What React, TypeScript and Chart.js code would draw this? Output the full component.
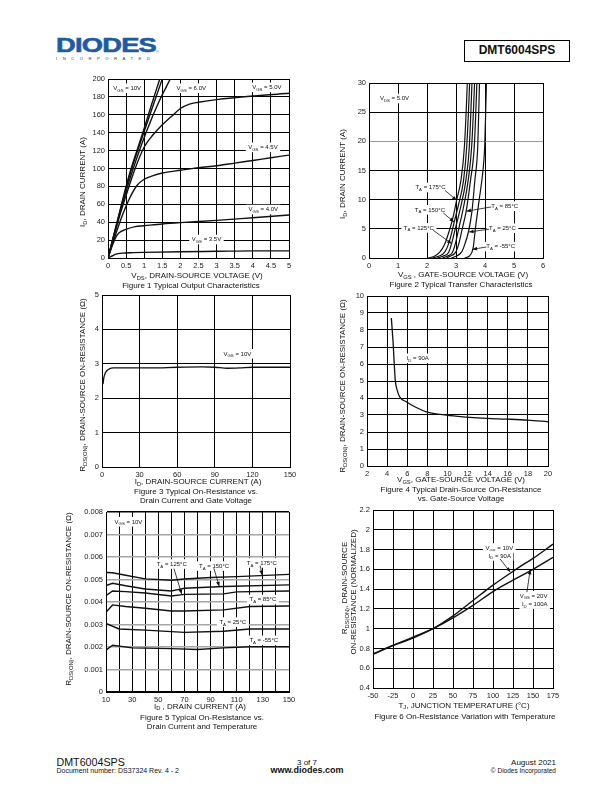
import React, { useEffect, useRef } from 'react';
import { Chart, registerables } from 'chart.js';

Chart.register(...registerables);

const FONT = "'Liberation Sans', Arial, Helvetica, sans-serif";
const INK = '#111';

// ---------------- Figure 1: Typical Output Characteristics ----------------
const f1XTicks = [0, 0.5, 1, 1.5, 2, 2.5, 3, 3.5, 4, 4.5, 5];
const f1XLabels = ['0', '0.5', '1', '1.5', '2', '2.5', '3', '3.5', '4', '4.5', '5'];
const f1YTicks = [0, 20, 40, 60, 80, 100, 120, 140, 160, 180, 200];
const f1YLabels = ['0', '20', '40', '60', '80', '100', '120', '140', '160', '180', '200'];
const f1Vgs10 = [[0, 0], [0.3, 48], [0.58, 92], [0.97, 141], [1.2, 171], [1.43, 200]];
const f1Vgs8 = [[0, 0], [0.3, 47], [0.58, 90], [0.98, 139], [1.25, 171], [1.5, 200]];
const f1Vgs6 = [[0, 0], [0.3, 46], [0.6, 88], [1.06, 141], [1.4, 174], [1.72, 200]];
const f1Vgs5 = [[0, 0], [0.3, 44], [0.5, 70], [0.75, 100], [1, 124], [1.25, 138], [1.5, 149], [1.75, 158], [2, 167], [2.25, 172], [2.5, 174], [3, 177], [4, 181], [5, 184]];
const f1Vgs45 = [[0, 0], [0.2, 25], [0.4, 48], [0.6, 67], [0.8, 81], [1, 88], [1.25, 92], [1.5, 95], [2, 98], [2.5, 101], [3, 103], [3.5, 106], [4, 109], [4.5, 112], [5, 115]];
const f1Vgs4 = [[0, 0], [0.1, 12], [0.2, 22], [0.3, 28], [0.5, 32], [0.75, 35], [1, 36], [1.5, 38], [2, 39.5], [3, 42], [4, 45], [5, 48]];
const f1Vgs35 = [[0, 0], [0.1, 2], [0.2, 4], [0.4, 5.5], [0.7, 6], [1, 6.3], [2, 7], [3, 7.5], [4, 8], [5, 8]];
const f1Notes = [
  { t: 'V_{GS} = 10V', x: 0.53, y: 190 },
  { t: 'V_{GS} = 6.0V', x: 2.3, y: 190 },
  { t: 'V_{GS} = 5.0V', x: 4.39, y: 191 },
  { t: 'V_{GS} = 4.5V', x: 4.28, y: 124 },
  { t: 'V_{GS} = 4.0V', x: 4.29, y: 54.5 },
  { t: 'V_{GS} = 3.5V', x: 2.72, y: 21 },
];

// ---------------- Figure 2: Typical Transfer Characteristics ----------------
const f2XTicks = [0, 1, 2, 3, 4, 5, 6];
const f2XLabels = ['0', '1', '2', '3', '4', '5', '6'];
const f2YTicks = [0, 5, 10, 15, 20, 25, 30];
const f2YLabels = ['0', '5', '10', '15', '20', '25', '30'];
const f2T175 = [[2.04, 0], [2.25, 0.3], [2.44, 1], [2.62, 2.5], [2.77, 4.7], [2.9, 7], [3.02, 9.9], [3.17, 13.3], [3.29, 19.1], [3.39, 30], [3.41, 33]];
const f2T150 = [[2.19, 0], [2.4, 0.3], [2.61, 1], [2.75, 2.5], [2.87, 4.7], [2.94, 6.2], [3.08, 9], [3.26, 13.3], [3.37, 19.1], [3.47, 30], [3.49, 33]];
const f2T125 = [[2.35, 0], [2.55, 0.3], [2.75, 1], [2.85, 2.5], [2.96, 4.7], [3.15, 8.5], [3.34, 13.3], [3.46, 19.1], [3.55, 30], [3.57, 33]];
const f2T100 = [[2.53, 0], [2.7, 0.3], [2.88, 1], [2.98, 2.5], [3.08, 4.7], [3.25, 8.5], [3.42, 13.3], [3.54, 19.1], [3.64, 30], [3.66, 33]];
const f2T85 = [[2.67, 0], [2.8, 0.3], [2.99, 1], [3.1, 2.5], [3.2, 4.7], [3.35, 8], [3.5, 13.3], [3.63, 19.1], [3.72, 30], [3.74, 33]];
const f2T25 = [[2.84, 0], [3.0, 0.3], [3.19, 1], [3.3, 2.3], [3.43, 4.5], [3.55, 8], [3.65, 13.3], [3.75, 19.1], [3.81, 30], [3.83, 33]];
const f2Tm55 = [[3.3, 0], [3.45, 0.3], [3.55, 1], [3.6, 2], [3.66, 4.7], [3.8, 10], [3.93, 15], [3.99, 19.1], [4.05, 30], [4.07, 33]];
const f2Notes = [
  { t: 'V_{DS} = 5.0V', x: 0.88, y: 27.4 },
  { t: 'T_{A} = 175°C', x: 2.12, y: 12.14 },
  { t: 'T_{A} = 150°C', x: 2.1, y: 8.31 },
  { t: 'T_{A} = 125°C', x: 1.72, y: 5.22 },
  { t: 'T_{A} = 85°C', x: 4.68, y: 8.93 },
  { t: 'T_{A} = 25°C', x: 4.6, y: 5.15 },
  { t: 'T_{A} = -55°C', x: 4.54, y: 2.01 },
];
const f2Arrows = [
  { x1: 2.62, y1: 11.6, x2: 3.02, y2: 9.9 },
  { x1: 2.56, y1: 7.73, x2: 2.93, y2: 6.18 },
  { x1: 2.21, y1: 4.76, x2: 2.85, y2: 2.47 },
  { x1: 4.22, y1: 8.76, x2: 3.36, y2: 8.02 },
  { x1: 4.14, y1: 4.93, x2: 3.45, y2: 4.47 },
  { x1: 4.05, y1: 1.89, x2: 3.57, y2: 1.49 },
];

// ---------------- Figure 3: On-Resistance vs Drain Current ----------------
const f3XTicks = [0, 30, 60, 90, 120, 150];
const f3XLabels = ['0', '30', '60', '90', '120', '150'];
const f3YTicks = [0, 1, 2, 3, 4, 5];
const f3YLabels = ['0', '1', '2', '3', '4', '5'];
const f3Vgs10 = [[0.8, 2.41], [1.5, 2.6], [2.6, 2.73], [4.8, 2.83], [8.8, 2.88], [20, 2.88], [40, 2.88], [60, 2.9], [80, 2.91], [90, 2.9], [100, 2.87], [110, 2.88], [120, 2.9], [150, 2.9]];
const f3Notes = [{ t: 'V_{GS} = 10V', x: 108, y: 3.3 }];

// ---------------- Figure 4: On-Resistance vs Gate-Source Voltage ----------------
const f4XTicks = [2, 4, 6, 8, 10, 12, 14, 16, 18, 20];
const f4XLabels = ['2', '4', '6', '8', '10', '12', '14', '16', '18', '20'];
const f4YTicks = [0, 1, 2, 3, 4, 5, 6, 7, 8, 9, 10];
const f4YLabels = ['0', '1', '2', '3', '4', '5', '6', '7', '8', '9', '10'];
const f4Id90 = [[4.42, 8.71], [4.58, 7.4], [4.81, 5.05], [5.0, 4.46], [5.25, 4.07], [5.9, 3.78], [6.9, 3.44], [7.9, 3.19], [9.9, 2.99], [11.9, 2.88], [13.9, 2.8], [15.8, 2.76], [18, 2.7], [20, 2.6]];
const f4Notes = [{ t: 'I_{D} = 90A', x: 7.04, y: 6.35 }];

// ---------------- Figure 5: On-Resistance vs Drain Current and Temperature ----------------
const f5XTicks = [10, 20, 30, 40, 50, 60, 70, 80, 90, 100, 110, 120, 130, 140, 150];
const f5XLabels = ['10', '', '30', '', '50', '', '70', '', '90', '', '110', '', '130', '', '150'];
const f5YTicks = [0, 0.001, 0.002, 0.003, 0.004, 0.005, 0.006, 0.007, 0.008];
const f5YLabels = ['0', '0.001', '0.002', '0.003', '0.004', '0.005', '0.006', '0.007', '0.008'];
const f5T175 = [[10, 0.00531], [15, 0.0053], [25, 0.00519], [40, 0.00503], [60, 0.00497], [70, 0.00502], [90, 0.00509], [110, 0.00513], [128, 0.00517], [150, 0.00523]];
const f5T150 = [[10, 0.00473], [15, 0.00483], [25, 0.00472], [40, 0.00458], [60, 0.00449], [65, 0.00455], [70, 0.00461], [100, 0.00469], [150, 0.00476]];
const f5T125 = [[10, 0.00428], [15, 0.00449], [25, 0.00446], [40, 0.0044], [60, 0.00427], [70, 0.00434], [100, 0.00436], [110, 0.00445], [150, 0.00449]];
const f5T85 = [[10, 0.00354], [15, 0.00387], [25, 0.0038], [40, 0.00372], [60, 0.0036], [70, 0.0036], [100, 0.00365], [120, 0.0038], [150, 0.00382]];
const f5T25 = [[10, 0.00305], [20, 0.0028], [40, 0.00275], [70, 0.00265], [100, 0.0027], [120, 0.0028], [150, 0.0028]];
const f5Tm55 = [[10, 0.00186], [15, 0.00208], [30, 0.00196], [60, 0.00193], [80, 0.00189], [100, 0.00196], [120, 0.00201], [150, 0.00201]];
const f5Notes = [
  { t: 'V_{GS} = 10V', x: 27.2, y: 0.00758 },
  { t: 'T_{A} = 125°C', x: 60.3, y: 0.0057 },
  { t: 'T_{A} = 150°C', x: 92.7, y: 0.00561 },
  { t: 'T_{A} = 175°C', x: 129.2, y: 0.00575 },
  { t: 'T_{A} = 85°C', x: 130, y: 0.00412 },
  { t: 'T_{A} = 25°C', x: 107, y: 0.00312 },
  { t: 'T_{A} = -55°C', x: 130.7, y: 0.00231 },
];
const f5Arrows = [
  { x1: 62, y1: 0.00548, x2: 67.9, y2: 0.00436 },
  { x1: 92.5, y1: 0.0055, x2: 96.6, y2: 0.0047 },
  { x1: 128, y1: 0.00561, x2: 129.4, y2: 0.0052 },
];

// ---------------- Figure 6: On-Resistance vs Temperature ----------------
const f6XTicks = [-50, -25, 0, 25, 50, 75, 100, 125, 150, 175];
const f6XLabels = ['-50', '-25', '0', '25', '50', '75', '100', '125', '150', '175'];
const f6YTicks = [0.4, 0.6, 0.8, 1, 1.2, 1.4, 1.6, 1.8, 2, 2.2];
const f6YLabels = ['0.4', '0.6', '0.8', '1', '1.2', '1.4', '1.6', '1.8', '2', '2.2'];
const f6Vgs10 = [[-50, 0.74], [-25, 0.83], [0, 0.915], [25, 1.0], [50, 1.13], [75, 1.285], [100, 1.44], [125, 1.58], [140, 1.66], [150, 1.71], [175, 1.855]];
const f6Vgs20 = [[-50, 0.745], [-25, 0.83], [0, 0.905], [25, 1.0], [50, 1.11], [75, 1.235], [100, 1.375], [125, 1.49], [150, 1.6], [175, 1.72]];
const f6Notes = [
  { t: 'V_{GS} = 10V', x: 107.9, y: 1.819 },
  { t: 'I_{D} = 90A', x: 108.5, y: 1.739 },
  { t: 'V_{GS} = 20V', x: 150.7, y: 1.335 },
  { t: 'I_{D} = 100A', x: 152.2, y: 1.251 },
];
const f6Arrows = [
  { x1: 108.9, y1: 1.705, x2: 121.5, y2: 1.573 },
  { x1: 142.4, y1: 1.369, x2: 146.5, y2: 1.595 },
];

// ---------------- text around the plots ----------------
const pageTexts = [
  { x: 83, y: 182, text: 'I_{D}, DRAIN CURRENT (A)', rot: true },
  { x: 197, y: 276, text: 'V_{DS}, DRAIN-SOURCE VOLTAGE (V)' },
  { x: 191, y: 286, text: 'Figure 1 Typical Output Characteristics' },
  { x: 343, y: 174, text: 'I_{D}, DRAIN CURRENT (A)', rot: true },
  { x: 463, y: 275, text: 'V_{GS} , GATE-SOURCE VOLTAGE (V)' },
  { x: 461, y: 285, text: 'Figure 2 Typical Transfer Characteristics' },
  { x: 83, y: 385, text: 'R_{DS(ON)}, DRAIN-SOURCE ON-RESISTANCE (Ω)', rot: true },
  { x: 198, y: 482, text: 'I_{D}, DRAIN-SOURCE CURRENT (A)' },
  { x: 196, y: 491.5, text: 'Figure 3 Typical On-Resistance vs.' },
  { x: 196, y: 500.5, text: 'Drain Current and Gate Voltage' },
  { x: 343, y: 386, text: 'R_{DS(ON)}, DRAIN-SOURCE ON-RESISTANCE (Ω)', rot: true },
  { x: 461, y: 480, text: 'V_{GS}, GATE-SOURCE VOLTAGE (V)' },
  { x: 461, y: 490, text: 'Figure 4 Typical Drain-Source On-Resistance' },
  { x: 461, y: 498.5, text: 'vs. Gate-Source Voltage' },
  { x: 69, y: 599, text: 'R_{DS(ON)}, DRAIN-SOURCE ON-RESISTANCE (Ω)', rot: true },
  { x: 200, y: 706.5, text: 'I_{D} , DRAIN CURRENT (A)' },
  { x: 202, y: 717.5, text: 'Figure 5 Typical On-Resistance vs.' },
  { x: 202, y: 726.5, text: 'Drain Current and Temperature' },
  { x: 345, y: 588, text: 'R_{DS(ON)}, DRAIN-SOURCE', rot: true },
  { x: 354, y: 592, text: 'ON-RESISTANCE (NORMALIZED)', rot: true },
  { x: 464, y: 705.5, text: 'T_{J}, JUNCTION TEMPERATURE (°C)' },
  { x: 465, y: 717, text: 'Figure 6 On-Resistance Variation with Temperature' },
];

// ---------------- helpers ----------------
type Seg = { t: string; sub: boolean };
function parseRich(s: string): Seg[] {
  const out: Seg[] = [];
  const re = /_\{([^}]*)\}/g;
  let last = 0;
  let m: RegExpExecArray | null;
  while ((m = re.exec(s))) {
    if (m.index > last) out.push({ t: s.slice(last, m.index), sub: false });
    out.push({ t: m[1], sub: true });
    last = re.lastIndex;
  }
  if (last < s.length) out.push({ t: s.slice(last), sub: false });
  return out;
}

function drawRich(ctx: CanvasRenderingContext2D, text: string, cx: number, cy: number, size: number) {
  const segs = parseRich(text);
  const widths: number[] = [];
  let w = 0;
  for (const s of segs) {
    ctx.font = `${s.sub ? size * 0.72 : size}px ${FONT}`;
    const sw = ctx.measureText(s.t).width;
    widths.push(sw);
    w += sw;
  }
  let x = cx - w / 2;
  ctx.fillStyle = '#fff';
  ctx.fillRect(x - 2.5, cy - size * 0.75, w + 5, size * 1.6);
  ctx.fillStyle = INK;
  ctx.textBaseline = 'alphabetic';
  ctx.textAlign = 'left';
  const base = cy + size * 0.35;
  segs.forEach((s, i) => {
    ctx.font = `${s.sub ? size * 0.72 : size}px ${FONT}`;
    ctx.fillText(s.t, x, s.sub ? base + size * 0.3 : base);
    x += widths[i];
  });
}

type Note = { t: string; x: number; y: number };
type Arrow = { x1: number; y1: number; x2: number; y2: number };
type Spec = {
  rect: number[];
  xTicks: number[]; xLabels: string[];
  yTicks: number[]; yLabels: string[];
  series: number[][][];
  smooth: boolean;
  lineWidth?: number;
  notes: Note[];
  arrows: Arrow[];
  hGrid?: (v: number) => string;
  hGridW?: number;
};

const PADL = 40, PADT = 8, PADR = 14, PADB = 20;

function notesPlugin(spec: Spec) {
  return {
    id: 'notes',
    afterDatasetsDraw(chart: any) {
      const ctx: CanvasRenderingContext2D = chart.ctx;
      const xs = chart.scales.x, ys = chart.scales.y;
      ctx.save();
      for (const n of spec.notes) drawRich(ctx, n.t, xs.getPixelForValue(n.x), ys.getPixelForValue(n.y), 6);
      for (const a of spec.arrows) {
        const x1 = xs.getPixelForValue(a.x1), y1 = ys.getPixelForValue(a.y1);
        const x2 = xs.getPixelForValue(a.x2), y2 = ys.getPixelForValue(a.y2);
        ctx.strokeStyle = INK;
        ctx.lineWidth = 0.8;
        ctx.beginPath();
        ctx.moveTo(x1, y1);
        ctx.lineTo(x2, y2);
        ctx.stroke();
        const ang = Math.atan2(y2 - y1, x2 - x1);
        const L = 4.5, W = 1.9;
        ctx.beginPath();
        ctx.moveTo(x2, y2);
        ctx.lineTo(x2 - L * Math.cos(ang) + W * Math.sin(ang), y2 - L * Math.sin(ang) - W * Math.cos(ang));
        ctx.lineTo(x2 - L * Math.cos(ang) - W * Math.sin(ang), y2 - L * Math.sin(ang) + W * Math.cos(ang));
        ctx.closePath();
        ctx.fillStyle = INK;
        ctx.fill();
      }
      ctx.restore();
    },
  };
}

function axis(ticks: number[], labels: string[], isX: boolean, gridColor: any, gridW: number) {
  return {
    type: 'linear',
    min: ticks[0],
    max: ticks[ticks.length - 1],
    afterBuildTicks: (s: any) => { s.ticks = ticks.map((v) => ({ value: v })); },
    afterFit: (s: any) => {
      if (isX) s.height = PADB; else s.width = PADL;
      s.paddingLeft = 0; s.paddingRight = 0; s.paddingTop = 0; s.paddingBottom = 0;
    },
    ticks: {
      autoSkip: false, maxRotation: 0, minRotation: 0, padding: 3, color: '#222',
      font: { family: FONT, size: 7.5 },
      callback: (_v: any, i: number) => labels[i],
    },
    grid: { color: gridColor, lineWidth: gridW, drawTicks: false },
    border: { display: true, color: '#000', width: 1 },
  };
}

function Plot({ spec }: { spec: Spec }) {
  const ref = useRef<HTMLCanvasElement>(null);
  const [pl, pt, pr, pb] = spec.rect;
  const w = pr - pl + PADL + PADR;
  const h = pb - pt + PADT + PADB;
  useEffect(() => {
    const hg = spec.hGrid;
    const chart = new Chart(ref.current as HTMLCanvasElement, {
      type: 'line',
      data: {
        datasets: spec.series.map((s) => ({
          data: s.map((p) => ({ x: p[0], y: p[1] })),
          borderColor: INK,
          borderWidth: spec.lineWidth ?? 1.3,
          pointRadius: 0,
          fill: false,
          tension: 0,
          cubicInterpolationMode: spec.smooth ? 'monotone' : 'default',
        })),
      } as any,
      options: {
        animation: false,
        responsive: false,
        devicePixelRatio: 1,
        events: [],
        layout: { padding: { left: 0, top: PADT, right: PADR, bottom: 0 } },
        plugins: { legend: { display: false }, tooltip: { enabled: false } },
        scales: {
          x: axis(spec.xTicks, spec.xLabels, true, '#000', 1),
          y: axis(spec.yTicks, spec.yLabels, false, hg ? (c: any) => hg(c.tick ? c.tick.value : 0) : '#000', spec.hGridW ?? 1),
        },
      } as any,
      plugins: [notesPlugin(spec)],
    });
    return () => chart.destroy();
  }, []);
  return (
    <canvas
      ref={ref}
      width={w}
      height={h}
      style={{ position: 'absolute', left: pl - PADL, top: pt - PADT, width: w, height: h }}
    />
  );
}

function Rich({ text }: { text: string }) {
  return (
    <>
      {parseRich(text).map((s, i) =>
        s.sub ? (
          <span key={i} style={{ fontSize: '0.72em', position: 'relative', top: '0.3em' }}>{s.t}</span>
        ) : (
          <span key={i}>{s.t}</span>
        )
      )}
    </>
  );
}

const specs: Spec[] = [
  {
    rect: [108, 79, 289, 258],
    xTicks: f1XTicks, xLabels: f1XLabels, yTicks: f1YTicks, yLabels: f1YLabels,
    series: [f1Vgs10, f1Vgs8, f1Vgs6, f1Vgs5, f1Vgs45, f1Vgs4, f1Vgs35],
    smooth: true, lineWidth: 1.4, notes: f1Notes, arrows: [],
  },
  {
    rect: [369, 83, 543, 258],
    xTicks: f2XTicks, xLabels: f2XLabels, yTicks: f2YTicks, yLabels: f2YLabels,
    series: [f2T175, f2T150, f2T125, f2T100, f2T85, f2T25, f2Tm55],
    smooth: true, lineWidth: 1.2, notes: f2Notes, arrows: f2Arrows,
    hGrid: (v) => (v === 20 ? '#9a9a9a' : '#000'),
  },
  {
    rect: [102, 295, 290, 467],
    xTicks: f3XTicks, xLabels: f3XLabels, yTicks: f3YTicks, yLabels: f3YLabels,
    series: [f3Vgs10], smooth: true, lineWidth: 1.3, notes: f3Notes, arrows: [],
  },
  {
    rect: [367, 296, 548, 466],
    xTicks: f4XTicks, xLabels: f4XLabels, yTicks: f4YTicks, yLabels: f4YLabels,
    series: [f4Id90], smooth: true, lineWidth: 1.3, notes: f4Notes, arrows: [],
  },
  {
    rect: [106, 512, 289, 692],
    xTicks: f5XTicks, xLabels: f5XLabels, yTicks: f5YTicks, yLabels: f5YLabels,
    series: [f5T175, f5T150, f5T125, f5T85, f5T25, f5Tm55],
    smooth: false, lineWidth: 1.4, notes: f5Notes, arrows: f5Arrows,
    hGrid: (v) => (v === 0 || v === 0.008 ? '#000' : '#a5a5a5'), hGridW: 1.5,
  },
  {
    rect: [373, 510, 553, 688],
    xTicks: f6XTicks, xLabels: f6XLabels, yTicks: f6YTicks, yLabels: f6YLabels,
    series: [f6Vgs10, f6Vgs20], smooth: true, lineWidth: 1.4, notes: f6Notes, arrows: f6Arrows,
  },
];

const abs = (o: any): React.CSSProperties => ({ position: 'absolute', lineHeight: 1, whiteSpace: 'nowrap', ...o });

export default function App() {
  return (
    <div style={{ position: 'absolute', left: 0, top: 0, width: 612, height: 792, background: '#fff', overflow: 'hidden', fontFamily: FONT, color: INK }}>
      {/* header */}
      <div style={abs({ left: 56, top: 34, fontSize: 21, fontWeight: 'bold', color: '#1d5ba4', WebkitTextStroke: '0.6px #1d5ba4', transform: 'scaleX(1.3)', transformOrigin: 'left top', letterSpacing: -0.6 })}>DIODES</div>
      <div style={abs({ left: 156, top: 50, fontSize: 4, color: '#1d5ba4' })}>®</div>
      <div style={abs({ left: 56, top: 56.5, fontSize: 4.2, letterSpacing: 5.5, color: '#1d3d6a' })}>INCORPORATED</div>
      <div style={abs({ left: 464, top: 40, width: 106, height: 22, boxSizing: 'border-box', border: '1.5px solid #000', fontSize: 12, fontWeight: 'bold', textAlign: 'center', lineHeight: '19px' })}>DMT6004SPS</div>

      {specs.map((s, i) => <Plot key={i} spec={s} />)}

      {pageTexts.map((t, i) => (
        <div key={i} style={abs({ left: t.x, top: t.y, fontSize: 8, transform: t.rot ? 'translate(-50%,-50%) rotate(-90deg)' : 'translate(-50%,-50%)' })}>
          <Rich text={t.text} />
        </div>
      ))}

      {/* footer */}
      <div style={abs({ left: 56.5, top: 756.5, fontSize: 10.7 })}>DMT6004SPS</div>
      <div style={abs({ left: 56.5, top: 767, fontSize: 7 })}>Document number: DS37324 Rev. 4 - 2</div>
      <div style={abs({ left: 307, top: 758.5, fontSize: 8, transform: 'translateX(-50%)' })}>3 of 7</div>
      <div style={abs({ left: 307, top: 766, fontSize: 9, fontWeight: 'bold', transform: 'translateX(-50%)' })}>www.diodes.com</div>
      <div style={abs({ right: 56, top: 759, fontSize: 8 })}>August 2021</div>
      <div style={abs({ right: 56, top: 767.5, fontSize: 6.5 })}>© Diodes Incorporated</div>
    </div>
  );
}
